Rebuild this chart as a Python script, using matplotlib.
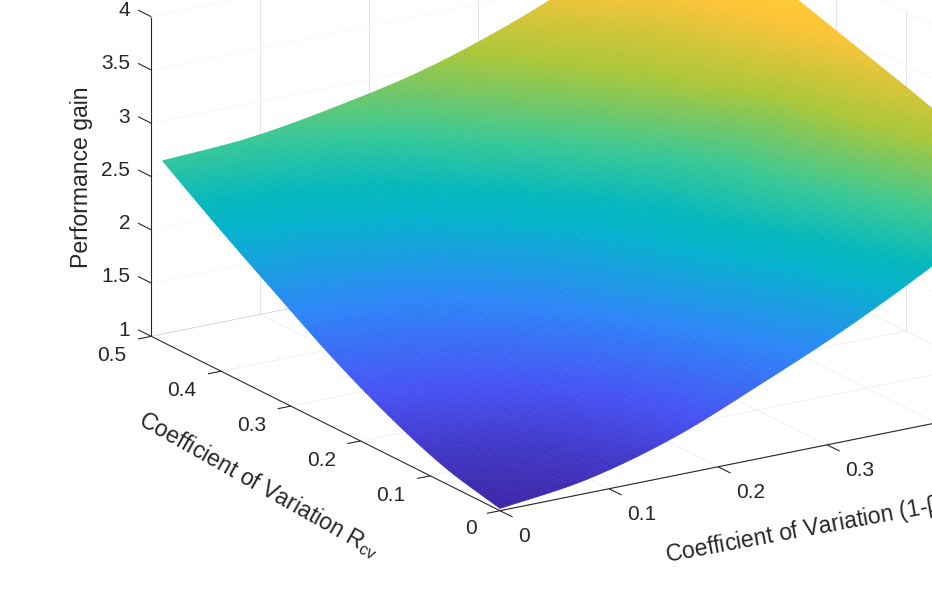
import numpy as np
import matplotlib
matplotlib.use("Agg")
import matplotlib.pyplot as plt
from matplotlib.colors import LinearSegmentedColormap, Normalize
from mpl_toolkits.mplot3d import proj3d

plt.rcParams['font.family'] = ['Liberation Sans', 'DejaVu Sans']
plt.rcParams['mathtext.fontset'] = 'custom'
plt.rcParams['mathtext.rm'] = 'Liberation Sans'
plt.rcParams['mathtext.it'] = 'Liberation Sans:italic'
plt.rcParams['mathtext.default'] = 'regular'

# ---- data ----
x_nodes = [0, .08, .16, .24, .32, .40, .484]   # Coefficient of Variation (1-beta)
r_nodes = [0, .08, .16, .24, .32, .40, .484]   # Coefficient of Variation R_cv
gain_r000 = [1.02, 1.13, 1.36, 1.70, 2.07, 2.50, 3.00]
gain_r008 = [1.15, 1.25, 1.48, 1.86, 2.25, 2.70, 3.20]
gain_r016 = [1.37, 1.47, 1.71, 2.08, 2.46, 2.88, 3.38]
gain_r024 = [1.65, 1.74, 1.95, 2.27, 2.61, 3.01, 3.54]
gain_r032 = [1.98, 2.06, 2.25, 2.56, 2.88, 3.24, 3.70]
gain_r040 = [2.32, 2.40, 2.57, 2.84, 3.10, 3.40, 3.85]
gain_r048 = [2.70, 2.75, 2.88, 3.06, 3.33, 3.67, 4.00]
x_ticks = [0, .1, .2, .3, .4, .5]
r_ticks = [0, .1, .2, .3, .4, .5]
z_ticks = [1, 1.5, 2, 2.5, 3, 3.5, 4]
z_tick_labels = ['1', '1.5', '2', '2.5', '3', '3.5', '4']
xy_tick_labels = ['0', '0.1', '0.2', '0.3', '0.4', '0.5']

gain = np.array([gain_r000, gain_r008, gain_r016, gain_r024,
                 gain_r032, gain_r040, gain_r048])

# Smooth shading only: each table cell is subdivided (Catmull-Rom through the
# nodes) so facets blend like MATLAB's "shading interp"; node values stay as read.
SUB = 12


def refine(a):
    a = np.asarray(a, float)
    n = a.shape[0]
    ext = np.concatenate([[2*a[0]-a[1]], a, [2*a[-1]-a[-2]]], axis=0)
    out = []
    for i in range(n-1):
        p0, p1, p2, p3 = ext[i], ext[i+1], ext[i+2], ext[i+3]
        for k in range(SUB):
            t = k/SUB
            out.append(.5*(2*p1+(p2-p0)*t+(2*p0-5*p1+4*p2-p3)*t**2
                           + (3*p1-p0-3*p2+p3)*t**3))
    out.append(a[-1])
    return np.array(out)


xf = refine(x_nodes)
rf = refine(r_nodes)
gf = refine(refine(gain).T).T
XF, RF = np.meshgrid(xf, rf)

parula = LinearSegmentedColormap.from_list('parula', [
    (0.000, (.2422, .1504, .6603)),
    (0.125, (.2810, .3228, .9579)),
    (0.250, (.1786, .5289, .9682)),
    (0.375, (.0200, .7000, .8000)),
    (0.420, (.0200, .7200, .7400)),
    (0.500, (.2161, .7843, .5923)),
    (0.625, (.6720, .7793, .2227)),
    (0.750, (.9970, .7659, .2199)),
    (1.000, (.9769, .9839, .0805))])
face = parula(Normalize(1.02, 4.42)(gf))

W, H = 932, 593
fig = plt.figure(figsize=(W/100, H/100), dpi=100)
S, cx, cy = 1500., 600., 250.


def rect():
    return [(cx-S/2)/W, (cy-S/2)/H, S/W, S/H]


ax = fig.add_axes(rect(), projection='3d', proj_type='ortho')
ax.view_init(elev=18.5, azim=-122.4)
ax.set_box_aspect((1, 1.008, .522))
ax.set_xlim(0, .5)
ax.set_ylim(0, .5)
ax.set_zlim(1, 4)
ax.set_axis_off()
ax.computed_zorder = False


def to_px(x, y, z):
    xs, ys, _ = proj3d.proj_transform(x, y, z, ax.get_proj())
    return ax.transData.transform((xs, ys))


# fit the axes box to the reference: origin and far end of the x axis (y up)
T0 = np.array([500., H-510.7])
T1 = np.array([1045., H-400.2])
for _ in range(4):
    ax.set_position(rect())
    ax.apply_aspect()
    a, b = to_px(0, 0, 1), to_px(.5, 0, 1)
    S *= np.linalg.norm(T1-T0)/np.linalg.norm(b-a)
    ax.set_position(rect())
    ax.apply_aspect()
    a = to_px(0, 0, 1)
    cx += T0[0]-a[0]
    cy += T0[1]-a[1]
ax.set_position(rect())
ax.apply_aspect()

WALL = '#f6f6f6'
VERT = '#e0e0e0'
FLOOR = '#eeeeee'
BACK = '#cfcfcf'
kw = dict(lw=.6, zorder=1)
for v in x_ticks[1:]:
    ax.plot([v, v], [0, .5], [1, 1], color=FLOOR, **kw)
    ax.plot([v, v], [.5, .5], [1, 4], color=VERT, **kw)
for v in r_ticks[:-1]:
    ax.plot([0, .5], [v, v], [1, 1], color=FLOOR, **kw)
for v in r_ticks[1:]:
    ax.plot([.5, .5], [v, v], [1, 4], color=VERT, **kw)
for v in z_ticks[1:]:
    ax.plot([0, .5], [.5, .5], [v, v], color=WALL, **kw)
    ax.plot([.5, .5], [0, .5], [v, v], color=WALL, **kw)
ax.plot([0, .5], [.5, .5], [1, 1], color=BACK, **kw)

ax.plot_surface(XF, RF, gf, rstride=1, cstride=1, facecolors=face,
                linewidth=.4, antialiased=True, shade=False, zorder=2)

DARK = '#262626'
lk = dict(color=DARK, lw=.8, zorder=3, solid_capstyle='butt')
ax.plot([0, .5], [0, 0], [1, 1], **lk)
ax.plot([0, 0], [0, .5], [1, 1], **lk)
ax.plot([0, 0], [.5, .5], [1, 4], **lk)
tk = dict(fontsize=15, color=DARK, ha='center', va='center', zorder=4)
for v, s in zip(x_ticks, xy_tick_labels):
    ax.plot([v, v], [0, -.018], [1, 1], **lk)
    ro = -.034 if v == 0 else -.047
    zo = .87 if v == 0 else .91
    ax.text(v, ro, zo, s, **tk)
for v, s in zip(r_ticks, xy_tick_labels):
    ax.plot([0, -.012], [v, v], [1, 1], **lk)
    xo = -.027 if v == 0 else -.036
    ax.text(xo, v, .89, s, **tk)
for v, s in zip(z_ticks, z_tick_labels):
    ax.plot([0, 0], [.5, .519], [v, v], **lk)
    ax.text(0, .5+.030, v-.04, s, **{**tk, 'ha': 'right'})


def fig_text(px, py, s, rot):
    fig.text(px/W, 1-py/H, s, rotation=rot, rotation_mode='anchor', ha='left',
             va='baseline', fontsize=16.6, color=DARK)


fig_text(88, 268, 'Performance gain', 90)
fig_text(137, 424, 'Coefficient of Variation R$_{cv}$', -29.5)
fig_text(667, 562, 'Coefficient of Variation (1-$\\beta$)', 10.5)

fig.savefig('out.png', dpi=100)
